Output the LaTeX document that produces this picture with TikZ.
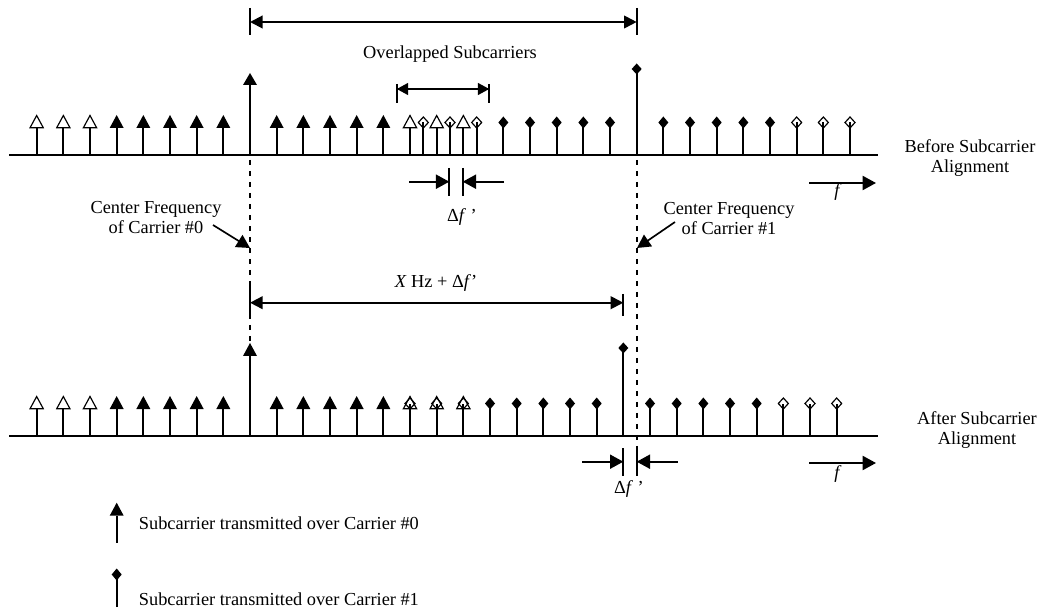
\documentclass[tikz,border=0pt]{standalone}
\usepackage{fontspec}
\setmainfont{Liberation Serif}
\usetikzlibrary{arrows.meta}

\begin{document}
\begin{tikzpicture}[x=0.6pt, y=-0.6pt, font=\fontsize{11}{12}\selectfont,
  axis/.style={line width=1.6pt},
  stem/.style={line width=1.2pt},
  rim/.style={line width=0.7pt},
  cfline/.style={line width=1.1pt, dash pattern=on 3pt off 3.6pt},
  dim/.style={line width=1.2pt, {Triangle[length=7.6pt,width=7.6pt]}-{Triangle[length=7.6pt,width=7.6pt]}},
  ptr/.style={line width=1.2pt, -{Triangle[length=8pt,width=8.4pt]}},
  full0/.pic={\draw[stem] (0,0) -- (0,-27); \fill (-7,-27) -- (7,-27) -- (0,-40) -- cycle;},
  open0/.pic={\draw[stem] (0,0) -- (0,-27); \draw[rim, fill=white] (-6.6,-27.3) -- (6.6,-27.3) -- (0,-39.5) -- cycle;},
  full1/.pic={\draw[stem] (0,0) -- (0,-32.5); \fill (0,-38.5) -- (5,-32.5) -- (0,-26.5) -- (-5,-32.5) -- cycle;},
  open1/.pic={\draw[stem] (0,0) -- (0,-32.5); \draw[rim] (0,-38) -- (5,-32.5) -- (0,-27) -- (-5,-32.5) -- cycle;},
  both/.pic={\draw[stem] (0,0) -- (0,-32.5); \draw[rim] (-6.6,-27.3) -- (6.6,-27.3) -- (0,-39.5) -- cycle;
    \draw[rim] (0,-38) -- (5,-32.5) -- (0,-27) -- (-5,-32.5) -- cycle;}]
  \useasboundingbox (0,0) rectangle (1041,611);

  % before alignment
  \draw[axis] (9,155) -- (878,155);
  \foreach \k in {0,1,2,14,15,16} \pic at ({36.67+26.667*\k},155) {open0};
  \foreach \k in {3,...,7,9,10,11,12,13} \pic at ({36.67+26.667*\k},155) {full0};
  \draw[stem] (250,155) -- (250,85); \fill (243,85) -- (257,85) -- (250,73) -- cycle;
  \foreach \j in {0,1,2,14,15,16} \pic at ({423.33+26.667*\j},155) {open1};
  \foreach \j in {3,...,7,9,10,11,12,13} \pic at ({423.33+26.667*\j},155) {full1};
  \draw[stem] (636.67,155) -- (636.67,69); \fill (636.67,63.5) -- (641.67,69) -- (636.67,74.5) -- (631.67,69) -- cycle;

  \draw[stem] (250,8) -- (250,35); \draw[stem] (636.67,8) -- (636.67,35);
  \draw[dim] (250,22) -- (636.67,22);
  \node (over) at (450,54) {Overlapped Subcarriers};
  \draw[stem] (396.7,84) -- (396.7,103); \draw[stem] (489.3,84) -- (489.3,103);
  \draw[line width=1.2pt, {Triangle[length=6.8pt,width=7pt]}-{Triangle[length=6.8pt,width=7pt]}] (396.7,89) -- (489.3,89);

  \coordinate (dl) at (449.3,181.7); \coordinate (dr) at (462.7,181.7);
  \draw[stem] (449.3,168) -- (449.3,196); \draw[stem] (462.7,168) -- (462.7,196);
  \draw[ptr] (409,181.7) -- (dl); \draw[ptr] (504,181.7) -- (dr);
  \node (dfa) at (462,217) {Δ\textit{f} ’};

  \draw[ptr] (809,183) -- (876,183);
  \node (fa) at (838,192) {\textit{f}};
  \node[align=center] (before) at (970,158) {Before Subcarrier\\Alignment};

  % centre frequencies
  \draw[cfline] (250,160) -- (250,343);
  \draw[cfline] (636.67,160) -- (636.67,448);
  \node[align=center] (cf0) at (156,218) {Center Frequency\\of Carrier \#0};
  \node[align=center] (cf1) at (729,219) {Center Frequency\\of Carrier \#1};
  \coordinate (cf0tail) at (213,225); \coordinate (cf0tip) at (250,248);
  \coordinate (cf1tail) at (675,222); \coordinate (cf1tip) at (637,248);
  \draw[line width=1pt, -{Triangle[length=8pt,width=8.4pt]}] (cf0tail) -- (cf0tip);
  \draw[line width=1pt, -{Triangle[length=8pt,width=8.4pt]}] (cf1tail) -- (cf1tip);

  \draw[stem] (250,285) -- (250,316); \draw[stem] (623.33,294) -- (623.33,316);
  \draw[dim] (250,302.7) -- (623.33,302.7);
  \node (xhz) at (436,283) {\textit{X} Hz + Δ\textit{f}’};

  % after alignment
  \draw[axis] (9,436) -- (878,436);
  \foreach \k in {0,1,2} \pic at ({36.67+26.667*\k},436) {open0};
  \foreach \k in {3,...,7,9,10,11,12,13} \pic at ({36.67+26.667*\k},436) {full0};
  \foreach \k in {14,15,16} \pic at ({36.67+26.667*\k},436) {both};
  \draw[stem] (250,436) -- (250,356); \fill (243,356) -- (257,356) -- (250,343) -- cycle;
  \foreach \j in {3,...,7,9,10,11,12,13} \pic at ({410+26.667*\j},436) {full1};
  \foreach \j in {14,15,16} \pic at ({410+26.667*\j},436) {open1};
  \draw[stem] (623.33,436) -- (623.33,348); \fill (623.33,342.5) -- (628.33,348) -- (623.33,353.5) -- (618.33,348) -- cycle;

  \coordinate (el) at (623.33,461.7); \coordinate (er) at (636.67,461.7);
  \draw[stem] (623.33,448) -- (623.33,476); \draw[stem] (636.67,448) -- (636.67,476);
  \draw[ptr] (582,461.7) -- (el); \draw[ptr] (677.7,461.7) -- (er);
  \node (dfb) at (629,489) {Δ\textit{f} ’};

  \draw[ptr] (809,463) -- (876,463);
  \node (fb) at (838,474) {\textit{f}};
  \node[align=center] (after) at (977,430) {After Subcarrier\\Alignment};

  % legend
  \pic at (116.7,542.7) {full0};
  \node[anchor=west] (leg0) at (133,523) {Subcarrier transmitted over Carrier \#0};
  \pic at (116.7,607) {full1};
  \node[anchor=west] (leg1) at (133,599) {Subcarrier transmitted over Carrier \#1};
\end{tikzpicture}
\end{document}
